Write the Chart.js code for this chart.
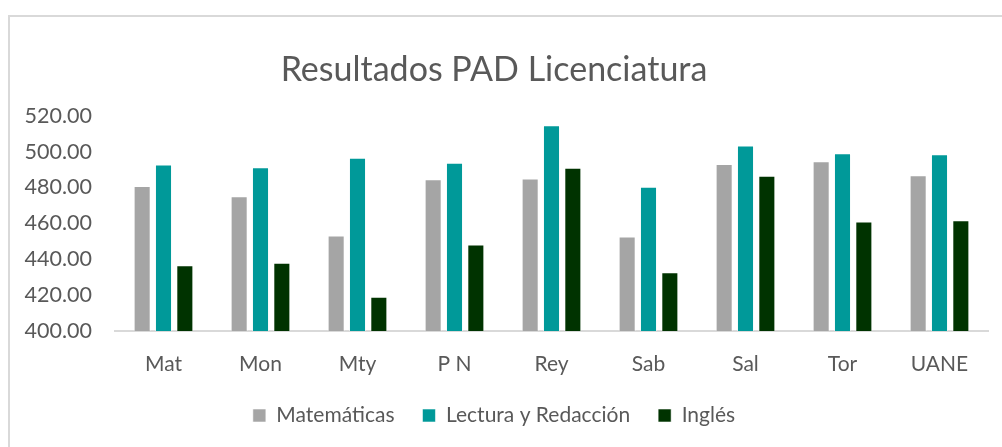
<!DOCTYPE html>
<html>
<head>
<meta charset="utf-8">
<script src="https://cdn.jsdelivr.net/npm/chart.js"></script>
<style>
  html, body { margin: 0; padding: 0; background: #fff; }
  .wrap { position: relative; width: 1002px; height: 447px; overflow: hidden; }
  .frame { position: absolute; left: 8px; top: 15px; width: 1000px; height: 440px; border: 2px solid #d9d9d9; box-sizing: border-box; }
  #chart { position: absolute; left: 0; top: 0; }
</style>
</head>
<body>
<div class="wrap">
  <div class="frame"></div>
  <canvas id="chart" width="1002" height="447"></canvas>
</div>
<script>
// Resultados PAD Licenciatura
const categories = ['Mat', 'Mon', 'Mty', 'P N', 'Rey', 'Sab', 'Sal', 'Tor', 'UANE'];
const matematicas = [480.8, 475.1, 453.3, 484.6, 485.0, 452.7, 493.1, 494.6, 486.9];
const lectura = [492.9, 491.3, 496.6, 493.8, 514.8, 480.5, 503.5, 499.1, 498.5];
const ingles = [436.7, 438.0, 419.1, 448.3, 491.1, 432.7, 486.6, 461.0, 461.8];
const yTicks = [400, 420, 440, 460, 480, 500, 520];

const FONT = 'Lato, "Open Sans", sans-serif';
const TEXT = '#595959';

const bar = (label, data, color) => ({
  label,
  data,
  backgroundColor: color,
  borderColor: 'rgba(255,255,255,0.55)',
  borderWidth: 1,
  base: yTicks[0],
  barPercentage: 0.8,
  categoryPercentage: 0.66
});

new Chart(document.getElementById('chart'), {
  type: 'bar',
  data: {
    labels: categories,
    datasets: [
      bar('Matemáticas', matematicas, '#a5a5a5'),
      bar('Lectura y Redacción', lectura, '#009999'),
      bar('Inglés', ingles, '#003300')
    ]
  },
  options: {
    responsive: false,
    animation: false,
    layout: { padding: { left: 0, right: 14, top: 0, bottom: 11 } },
    plugins: {
      title: {
        display: true,
        text: 'Resultados PAD Licenciatura',
        color: TEXT,
        font: { family: FONT, size: 34, weight: 'normal' },
        padding: { top: 50, bottom: 25 }
      },
      legend: {
        position: 'bottom',
        labels: {
          color: TEXT,
          font: { family: FONT, size: 21 },
          boxWidth: 13,
          boxHeight: 13,
          padding: 28
        }
      },
      tooltip: { enabled: false }
    },
    scales: {
      y: {
        min: yTicks[0],
        max: yTicks[yTicks.length - 1],
        afterBuildTicks: s => { s.ticks = yTicks.map(v => ({ value: v })); },
        afterFit: s => { s.width = 115; },
        grid: { display: false, drawTicks: false },
        border: { display: false },
        ticks: {
          color: TEXT,
          font: { family: FONT, size: 21.5 },
          padding: 23,
          callback: v => Number(v).toFixed(2)
        }
      },
      x: {
        afterFit: s => { s.height = 46; },
        grid: { display: false, drawTicks: false },
        border: { display: true, color: '#d9d9d9', width: 2 },
        ticks: {
          color: TEXT,
          font: { family: FONT, size: 21 },
          padding: 21
        }
      }
    }
  }
});
</script>
</body>
</html>
